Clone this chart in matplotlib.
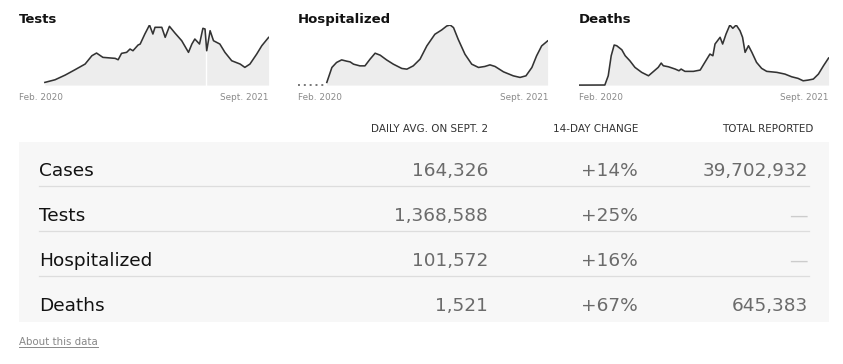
import numpy as np
import pandas as pd
import matplotlib
matplotlib.use('Agg')
import matplotlib.pyplot as plt
from matplotlib.patches import Rectangle

W, H = 843, 364
start = pd.Timestamp('2020-01-21')
end = pd.Timestamp('2021-09-02')

tests_day = [61, 85, 109, 132, 156, 172, 183, 198, 227, 234, 242, 254, 262, 269, 281, 286,
             297, 308, 316, 321, 337, 345, 355, 368, 384, 400, 408, 415, 426, 434, 439, 443,
             451, 459, 474, 486, 502, 522, 533, 545, 561, 573, 589]
tests_k = [78, 154, 290, 444, 609, 850, 928, 803, 774, 734, 919, 948, 1044, 995, 1160, 1189,
           1479, 1740, 1479, 1673, 1673, 1383, 1702, 1508, 1285, 948, 1189, 1334, 1189, 1644, 1624, 995,
           1575, 1285, 1189, 948, 705, 609, 513, 609, 899, 1140, 1380]
tests_gap_day = 441

hosp_day = [68, 80, 91, 103, 115, 123, 131, 146, 158, 170, 182, 194, 209, 225, 245, 257,
            272, 288, 304, 323, 339, 351, 359, 367, 378, 394, 410, 426, 441, 453, 465, 485,
            508, 524, 538, 552, 563, 575, 589]
hosp = [6190, 40590, 52050, 58010, 55030, 53430, 48150, 44250, 44250, 59620, 73380, 68790, 58010,
        48150, 38290, 36690, 44250, 59620, 90110, 116940, 126800, 135970, 138260, 132300, 105480,
        71080, 48150, 40590, 42880, 46550, 42880, 30500, 21330, 17660, 21330, 40590, 67180, 90110,
        101572]

deaths_day = [0, 61, 69, 76, 83, 89, 101, 109, 120, 132, 148, 164, 175, 187, 194, 199, 211, 227,
              236, 241, 250, 270, 286, 297, 309, 316, 321, 333, 339, 347, 356, 363, 371, 380, 386,
              392, 400, 408, 419, 431, 443, 467, 486, 502, 517, 529, 541, 553, 565, 577, 589]
deaths = [0, 5, 524, 1650, 2252, 2213, 1987, 1650, 1368, 997, 715, 524, 749, 997, 1239, 1087, 1030,
          901, 806, 901, 772, 772, 845, 1278, 1745, 1650, 2308, 2686, 2308, 2871, 3378, 3192, 3378,
          3057, 2686, 1841, 2213, 1841, 1278, 940, 772, 715, 619, 467, 377, 242, 282, 338, 619, 1087,
          1521]

# table
row_labels = ['Cases', 'Tests', 'Hospitalized', 'Deaths']
daily_avg = ['164,326', '1,368,588', '101,572', '1,521']
change_14d = ['+14%', '+25%', '+16%', '+67%']
total_reported = ['39,702,932', '—', '—', '645,383']
col_heads = ['DAILY AVG. ON SEPT. 2', '14-DAY CHANGE', 'TOTAL REPORTED']

fig = plt.figure(figsize=(W / 100, H / 100), dpi=100)
base = fig.add_axes([0, 0, 1, 1])
base.set_xlim(0, W)
base.set_ylim(H, 0)
base.axis('off')


def spark(left, title, days, vals, vmax, pre_dotted=False):
    ax = fig.add_axes([left / W, 1 - 86 / H, 250 / W, 61 / H])
    dates = start + pd.to_timedelta(np.array(days), unit='D')
    ax.fill_between(dates, vals, 0, color='#ededed', lw=0)
    ax.plot(dates, vals, color='#333333', lw=1.15, solid_joinstyle='round')
    if pre_dotted:
        ax.plot([start, dates[0]], [0, 0], color='#777777', lw=1.4, ls=(0, (1, 2)))
    ax.set_xlim(start, end)
    ax.set_ylim(-vmax * 0.015, vmax)
    ax.axis('off')
    base.text(left, 23, title, fontsize=9.5, fontweight='bold', color='#121212', va='baseline')
    base.text(left, 100, 'Feb. 2020', fontsize=6.4, color='#8a8a8a', va='baseline')
    base.text(left + 250, 100, 'Sept. 2021', fontsize=6.4, color='#8a8a8a', va='baseline', ha='right')
    return ax


ax_t = spark(19, 'Tests', tests_day, tests_k, max(tests_k))
ax_t.axvline(start + pd.Timedelta(days=tests_gap_day), color='white', lw=1, zorder=1.5)
spark(298, 'Hospitalized', hosp_day, hosp, max(hosp), pre_dotted=True)
spark(579, 'Deaths', deaths_day, deaths, max(deaths))

# table background and rows
base.add_patch(Rectangle((19, 141.7), 810, 180, color='#f7f7f7', lw=0))
head_x = [488, 638, 813]
for hx, h in zip(head_x, col_heads):
    base.text(hx, 131.5, h, fontsize=7.5, color='#333333', ha='right', va='baseline')

num_x = [488, 638, 808]
for i, lab in enumerate(row_labels):
    yb = 175.7 + 45 * i
    base.text(39, yb, lab, fontsize=13.3, color='#121212', va='baseline')
    base.text(num_x[0], yb, daily_avg[i], fontsize=13.3, color='#6b6b6b', ha='right', va='baseline')
    base.text(num_x[1], yb, change_14d[i], fontsize=13.3, color='#6b6b6b', ha='right', va='baseline')
    tot_col = '#cccccc' if total_reported[i] == '—' else '#6b6b6b'
    base.text(num_x[2], yb, total_reported[i], fontsize=13.3, color=tot_col, ha='right', va='baseline')
    if i < len(row_labels) - 1:
        base.plot([39, 809], [yb + 10, yb + 10], color='#dddddd', lw=0.9)

about = base.text(19, 345, 'About this data', fontsize=7.4, color='#888888', va='baseline')
fig.canvas.draw()
bb = about.get_window_extent().transformed(base.transData.inverted())
base.plot([bb.x0, bb.x1], [347, 347], color='#888888', lw=0.7)

fig.savefig('out.png', dpi=100)
